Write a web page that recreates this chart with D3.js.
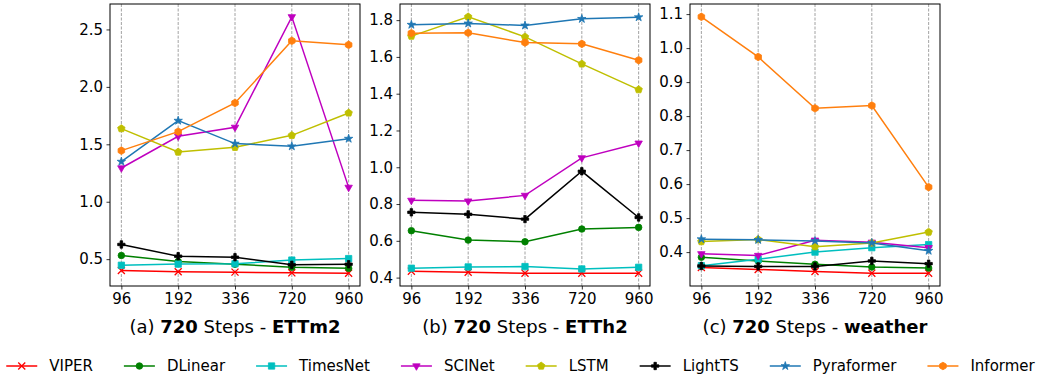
<!DOCTYPE html>
<html>
<head>
<meta charset="utf-8">
<script src="https://cdn.jsdelivr.net/npm/d3@7"></script>
<style>
  body { margin: 0; background: #fff; }
  svg { display: block; font-family: "DejaVu Sans", sans-serif; }
</style>
</head>
<body>
<svg id="chart" width="1039" height="379"></svg>
<script>
// horizons on the x axis (categorical)
const horizons = ["96", "192", "336", "720", "960"];
const models = ["VIPER", "DLinear", "TimesNet", "SCINet", "LSTM", "LightTS", "Pyraformer", "Informer"];
const colors = ["#ff0000", "#008000", "#00bfbf", "#bf00bf", "#bfbf00", "#000000", "#1f77b4", "#ff7f0e"];

// panel (a) ETTm2
const ettm2 = [
  [0.401, 0.390, 0.387, 0.381, 0.378],
  [0.532, 0.480, 0.456, 0.430, 0.420],
  [0.447, 0.457, 0.460, 0.492, 0.505],
  [1.294, 1.570, 1.648, 2.610, 1.125],
  [1.637, 1.433, 1.474, 1.578, 1.773],
  [0.628, 0.526, 0.517, 0.451, 0.456],
  [1.349, 1.706, 1.506, 1.483, 1.549],
  [1.445, 1.610, 1.860, 2.401, 2.366]
];
// panel (b) ETTh2
const etth2 = [
  [0.435, 0.429, 0.424, 0.424, 0.424],
  [0.655, 0.604, 0.595, 0.664, 0.673],
  [0.451, 0.458, 0.460, 0.447, 0.456],
  [0.820, 0.816, 0.847, 1.051, 1.131],
  [1.713, 1.818, 1.709, 1.562, 1.422],
  [0.755, 0.744, 0.718, 0.978, 0.727],
  [1.775, 1.782, 1.771, 1.807, 1.816],
  [1.729, 1.731, 1.678, 1.671, 1.582]
];
// panel (c) weather
const weather = [
  [0.355, 0.349, 0.343, 0.338, 0.338],
  [0.385, 0.374, 0.364, 0.356, 0.353],
  [0.360, 0.379, 0.400, 0.413, 0.422],
  [0.395, 0.390, 0.435, 0.429, 0.413],
  [0.431, 0.437, 0.416, 0.427, 0.459],
  [0.359, 0.358, 0.358, 0.374, 0.366],
  [0.438, 0.436, 0.433, 0.427, 0.404],
  [1.092, 0.974, 0.823, 0.831, 0.591]
];

const ticksA = [0.5, 1.0, 1.5, 2.0, 2.5];
const ticksB = [0.4, 0.6, 0.8, 1.0, 1.2, 1.4, 1.6, 1.8];
const ticksC = [0.4, 0.5, 0.6, 0.7, 0.8, 0.9, 1.0, 1.1];

const panels = [
  {label: "(a) ", dataset: "ETTm2", values: ettm2, ticks: ticksA},
  {label: "(b) ", dataset: "ETTh2", values: etth2, ticks: ticksB},
  {label: "(c) ", dataset: "weather", values: weather, ticks: ticksC}
];

const svg = d3.select("#chart");

// marker shapes (matplotlib-like)
function polygon(n, r, rot) {
  let pts = d3.range(n).map((i) => {
    let a = rot + i * 2 * Math.PI / n;
    return [r * Math.sin(a), -r * Math.cos(a)];
  });
  return "M" + pts.map((p) => p.join(",")).join("L") + "Z";
}
const markers = [
  {path: d3.symbol(d3.symbolX, 34)(), fill: false},
  {path: d3.symbol(d3.symbolCircle, 34)(), fill: true},
  {path: d3.symbol(d3.symbolSquare, 40)(), fill: true},
  {path: polygon(3, 4.3, Math.PI), fill: true},
  {path: polygon(5, 3.9, 0), fill: true},
  {path: d3.symbol(d3.symbolCross, 30)(), fill: true},
  {path: d3.symbol(d3.symbolStar, 22)(), fill: true},
  {path: polygon(6, 3.8, 0), fill: true}
];

function drawMarker(g, i, x, y) {
  let m = markers[i];
  g.append("path")
    .attr("d", m.path)
    .attr("transform", `translate(${x},${y})`)
    .attr("fill", m.fill ? colors[i] : "none")
    .attr("stroke", colors[i])
    .attr("stroke-width", m.fill ? 0.8 : 1.3);
}

const axW = 250, axTop = 4, axBottom = 286;

panels.forEach((p, pi) => {
  let left = 110 + pi * 290;
  let g = svg.append("g").attr("transform", `translate(${left},0)`);

  let x = d3.scalePoint().domain(horizons).range([0, axW]).padding(0.2);

  let lo = d3.min(p.values.flat()), hi = d3.max(p.values.flat());
  let pad = (hi - lo) * 0.05;
  let y = d3.scaleLinear().domain([lo - pad, hi + pad]).range([axBottom, axTop]);

  // vertical dashed grid
  g.selectAll(".grid").data(horizons).enter().append("line")
    .attr("x1", (d) => x(d)).attr("x2", (d) => x(d))
    .attr("y1", axTop).attr("y2", axBottom)
    .attr("stroke", "#8c8c8c").attr("stroke-width", 0.8)
    .attr("stroke-dasharray", "3,1.5");

  // series
  let line = d3.line().x((d, i) => x(horizons[i])).y((d) => y(d));
  p.values.forEach((vals, si) => {
    let sg = g.append("g");
    sg.append("path")
      .attr("d", line(vals))
      .attr("fill", "none")
      .attr("stroke", colors[si])
      .attr("stroke-width", 1.5);
    vals.forEach((v, i) => drawMarker(sg, si, x(horizons[i]), y(v)));
  });

  // axes
  let xAxis = d3.axisBottom(x).tickSize(3.5).tickPadding(3.5);
  let yAxis = d3.axisLeft(y).tickValues(p.ticks).tickFormat(d3.format(".1f")).tickSize(3.5).tickPadding(3.5);

  let gx = g.append("g").attr("transform", `translate(0,${axBottom})`).call(xAxis);
  let gy = g.append("g").call(yAxis);
  [gx, gy].forEach((a) => {
    a.select(".domain").remove();
    a.selectAll("text").attr("font-size", 15).attr("font-family", "DejaVu Sans").attr("fill", "#000");
    a.selectAll("line").attr("stroke", "#000").attr("stroke-width", 0.8);
  });

  // frame
  g.append("rect")
    .attr("x", 0).attr("y", axTop)
    .attr("width", axW).attr("height", axBottom - axTop)
    .attr("fill", "none").attr("stroke", "#000").attr("stroke-width", 1);

  // panel caption
  let t = g.append("text")
    .attr("x", axW / 2).attr("y", 333)
    .attr("text-anchor", "middle")
    .attr("font-size", 18);
  t.append("tspan").text(p.label);
  t.append("tspan").attr("font-weight", "bold").text("720");
  t.append("tspan").text(" Steps - ");
  t.append("tspan").attr("font-weight", "bold").text(p.dataset);
});

// legend
let legend = svg.append("g");
let lx = 0;
models.forEach((m, i) => {
  let eg = legend.append("g").attr("transform", `translate(${lx},366)`);
  eg.append("line")
    .attr("x1", 0).attr("x2", 31).attr("y1", 0).attr("y2", 0)
    .attr("stroke", colors[i]).attr("stroke-width", 1.5);
  drawMarker(eg, i, 15.5, 0);
  let txt = eg.append("text")
    .attr("x", 43).attr("y", 0)
    .attr("dy", "0.36em")
    .attr("font-size", 15)
    .text(m);
  lx += 43 + txt.node().getComputedTextLength() + 31;
});
let legendW = lx - 31;
legend.attr("transform", `translate(${(1039 - legendW) / 2 + 1},0)`);
</script>
</body>
</html>
